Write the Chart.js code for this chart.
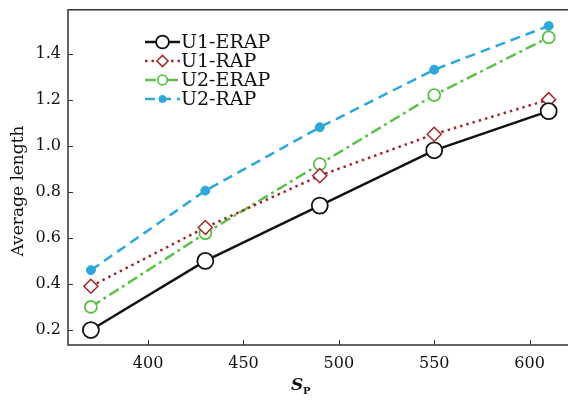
<!DOCTYPE html>
<html>
<head>
<meta charset="utf-8">
<script src="https://cdn.jsdelivr.net/npm/chart.js@4/dist/chart.umd.min.js"></script>
<style>
  html, body { margin: 0; padding: 0; background: #fff; }
  #wrap { width: 568px; height: 401px; }
</style>
</head>
<body>
<div id="wrap"><canvas id="c"></canvas></div>
<script>
const sp = [370, 430, 490, 550, 610];
const u1Erap = [0.20, 0.50, 0.74, 0.98, 1.15];
const u1Rap = [0.39, 0.645, 0.87, 1.05, 1.20];
const u2Erap = [0.30, 0.62, 0.92, 1.22, 1.47];
const u2Rap = [0.46, 0.805, 1.08, 1.33, 1.52];
const xTicks = [400, 450, 500, 550, 600];
const yTicks = [0.2, 0.4, 0.6, 0.8, 1.0, 1.2, 1.4];
const names = ['U1-ERAP', 'U1-RAP', 'U2-ERAP', 'U2-RAP'];
const yTitle = 'Average length';

const font = '"DejaVu Serif", "Liberation Serif", serif';

function pts(vals) {
    return vals.map((v, i) => ({ x: sp[i], y: v }));
}

// axes box, inward ticks, axis titles, legend
const extras = {
    id: 'extras',
    afterDraw(chart) {
        const ctx = chart.ctx;
        const a = chart.chartArea;
        const xs = chart.scales.x, ys = chart.scales.y;
        ctx.save();
        ctx.strokeStyle = '#333';
        ctx.lineWidth = 1.5;
        ctx.beginPath();
        ctx.moveTo(chart.width, a.top);
        ctx.lineTo(a.left, a.top);
        ctx.lineTo(a.left, a.bottom);
        ctx.lineTo(chart.width, a.bottom);
        ctx.stroke();
        ctx.lineWidth = 1;
        xTicks.forEach(t => {
            const px = Math.round(xs.getPixelForValue(t)) + 0.5;
            ctx.beginPath();
            ctx.moveTo(px, a.bottom);
            ctx.lineTo(px, a.bottom - 5);
            ctx.stroke();
        });
        yTicks.forEach(t => {
            const py = Math.round(ys.getPixelForValue(t)) + 0.5;
            ctx.beginPath();
            ctx.moveTo(a.left, py);
            ctx.lineTo(a.left + 5, py);
            ctx.stroke();
        });

        // y title
        ctx.fillStyle = '#111';
        ctx.save();
        ctx.translate(19, 191);
        ctx.rotate(-Math.PI / 2);
        ctx.font = '17px ' + font;
        ctx.textAlign = 'center';
        ctx.textBaseline = 'middle';
        ctx.fillText(yTitle, 0, 0);
        ctx.restore();

        // x title S_P
        ctx.textBaseline = 'alphabetic';
        ctx.font = 'italic bold 17px ' + font;
        ctx.fillText('S', 291, 390);
        ctx.font = 'bold 10px ' + font;
        ctx.fillText('P', 303, 394);

        // legend
        const lx = 145, ly = 42, gap = 19;
        chart.data.datasets.forEach((ds, i) => {
            const y = ly + i * gap;
            ctx.strokeStyle = ds.borderColor;
            ctx.lineWidth = ds.borderWidth;
            ctx.setLineDash(ds.borderDash || []);
            ctx.beginPath();
            ctx.moveTo(lx, y);
            ctx.lineTo(lx + 35, y);
            ctx.stroke();
            ctx.setLineDash([]);
            ctx.fillStyle = ds.pointBackgroundColor;
            ctx.strokeStyle = ds.pointBorderColor;
            ctx.lineWidth = ds.pointBorderWidth;
            Chart.helpers.drawPoint(ctx, {
                pointStyle: ds.pointStyle,
                radius: ds.pointRadius * 0.8,
                borderWidth: ds.pointBorderWidth
            }, lx + 17.5, y);
            ctx.fillStyle = '#111';
            ctx.font = '19px ' + font;
            ctx.textBaseline = 'middle';
            ctx.fillText(ds.label, lx + 36, y + 1);
        });
        ctx.restore();
    }
};

new Chart(document.getElementById('c'), {
    type: 'line',
    data: {
        datasets: [
            {
                label: names[0], data: pts(u1Erap),
                borderColor: '#111', borderWidth: 2.5,
                pointStyle: 'circle', pointRadius: 8, pointBorderWidth: 1.8,
                pointBackgroundColor: '#fff', pointBorderColor: '#111'
            },
            {
                label: names[1], data: pts(u1Rap),
                borderColor: '#a3262a', borderWidth: 2.5, borderDash: [2.5, 4],
                pointStyle: 'rectRot', pointRadius: 7, pointBorderWidth: 1.5,
                pointBackgroundColor: '#fff', pointBorderColor: '#a3262a'
            },
            {
                label: names[2], data: pts(u2Erap),
                borderColor: '#5cc04a', borderWidth: 2.5, borderDash: [11, 4, 3, 4],
                pointStyle: 'circle', pointRadius: 6, pointBorderWidth: 1.8,
                pointBackgroundColor: '#fff', pointBorderColor: '#5cc04a'
            },
            {
                label: names[3], data: pts(u2Rap),
                borderColor: '#2ea8d8', borderWidth: 2.5, borderDash: [10, 6],
                pointStyle: 'circle', pointRadius: 4.5, pointBorderWidth: 1,
                pointBackgroundColor: '#2ea8d8', pointBorderColor: '#2ea8d8'
            }
        ]
    },
    options: {
        responsive: true,
        maintainAspectRatio: false,
        animation: false,
        elements: { line: { tension: 0 } },
        layout: { padding: { top: 8, right: 1, left: 0, bottom: 0 } },
        plugins: { legend: { display: false }, tooltip: { enabled: false } },
        scales: {
            x: {
                type: 'linear', min: 358, max: 615,
                afterBuildTicks: s => { s.ticks = xTicks.map(v => ({ value: v })); },
                afterFit: s => { s.height = 56; s.paddingLeft = 0; s.paddingRight = 0; },
                grid: { display: false, drawTicks: false },
                border: { display: false },
                ticks: { color: '#111', font: { family: font, size: 16 }, padding: 9 }
            },
            y: {
                min: 0.135, max: 1.59,
                afterBuildTicks: s => { s.ticks = yTicks.map(v => ({ value: v })); },
                afterFit: s => { s.width = 68; s.paddingTop = 0; s.paddingBottom = 0; },
                grid: { display: false, drawTicks: false },
                border: { display: false },
                ticks: {
                    color: '#111', font: { family: font, size: 16 }, padding: 7,
                    callback: v => v.toFixed(1)
                }
            }
        }
    },
    plugins: [extras]
});
</script>
</body>
</html>
